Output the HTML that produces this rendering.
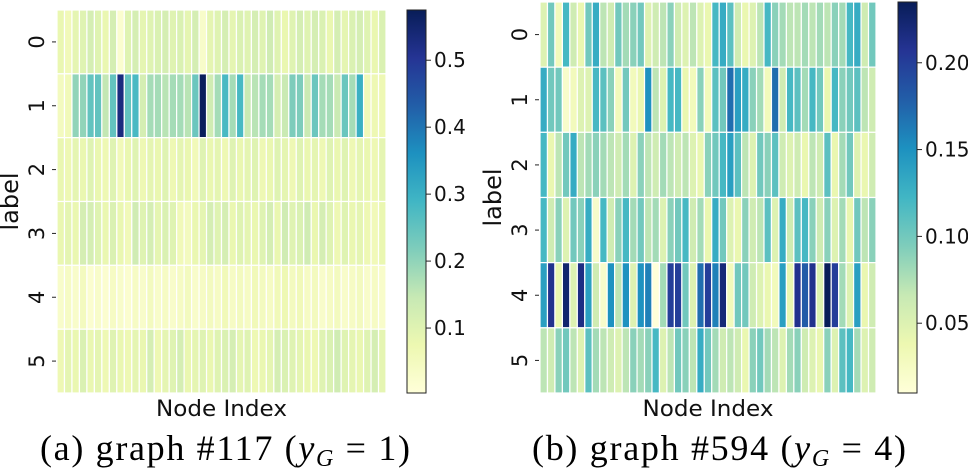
<!DOCTYPE html>
<html><head><meta charset="utf-8"><style>
html,body{margin:0;padding:0;background:#fff;}
svg{display:block;}
.t{font-family:"DejaVu Sans","Liberation Sans",sans-serif;fill:#111;}
.cap{font-family:"Liberation Serif",serif;fill:#000;}
</style></head><body>
<svg id="fig" width="968" height="471" viewBox="0 0 968 471" xmlns="http://www.w3.org/2000/svg">
<defs>
<linearGradient id="cmap" x1="0" y1="1" x2="0" y2="0">
<stop offset="0" stop-color="#ffffd9"/><stop offset="0.125" stop-color="#edf8b1"/><stop offset="0.25" stop-color="#c7e9b4"/><stop offset="0.375" stop-color="#7fcdbb"/><stop offset="0.5" stop-color="#41b6c4"/><stop offset="0.625" stop-color="#1d91c0"/><stop offset="0.75" stop-color="#225ea8"/><stop offset="0.875" stop-color="#253494"/><stop offset="1" stop-color="#081d58"/>
</linearGradient>
</defs>
</svg>
<script>
// Panel (a) graph #117 — rows are labels 0..5, 44 node columns
const rowLabels = ["0","1","2","3","4","5"];
const aRow0 = [0.08,0.06,0.09,0.1,0.12,0.1,0.08,0.12,0.02,0.1,0.12,0.09,0.1,0.11,0.12,0.1,0.11,0.09,0.12,0.03,0.09,0.1,0.12,0.09,0.11,0.1,0.12,0.1,0.13,0.1,0.08,0.1,0.12,0.1,0.12,0.11,0.08,0.12,0.09,0.11,0.12,0.1,0.08,0.11];
const aRow1 = [0.05,0.06,0.2,0.2,0.25,0.25,0.15,0.25,0.53,0.25,0.28,0.12,0.18,0.18,0.16,0.18,0.18,0.16,0.24,0.57,0.13,0.18,0.28,0.18,0.28,0.14,0.16,0.18,0.18,0.12,0.14,0.22,0.22,0.14,0.24,0.18,0.18,0.14,0.24,0.18,0.3,0.06,0.07,0.07];
const aRow2 = [0.08,0.07,0.09,0.08,0.1,0.08,0.07,0.1,0.06,0.08,0.1,0.07,0.09,0.08,0.1,0.07,0.09,0.08,0.06,0.1,0.08,0.09,0.07,0.1,0.08,0.09,0.1,0.07,0.08,0.1,0.09,0.07,0.1,0.08,0.09,0.07,0.1,0.08,0.1,0.07,0.09,0.08,0.07,0.09];
const aRow3 = [0.08,0.09,0.08,0.12,0.12,0.1,0.08,0.11,0.08,0.06,0.13,0.1,0.12,0.09,0.11,0.1,0.06,0.05,0.08,0.09,0.12,0.1,0.12,0.08,0.1,0.09,0.08,0.1,0.12,0.08,0.13,0.1,0.11,0.13,0.08,0.12,0.1,0.07,0.1,0.08,0.09,0.07,0.06,0.08];
const aRow4 = [0.03,0.04,0.03,0.05,0.02,0.03,0.02,0.04,0.03,0.02,0.04,0.03,0.05,0.03,0.04,0.03,0.04,0.05,0.03,0.04,0.05,0.04,0.06,0.04,0.05,0.04,0.06,0.05,0.04,0.06,0.07,0.05,0.06,0.04,0.05,0.03,0.04,0.05,0.03,0.04,0.05,0.03,0.04,0.03];
const aRow5 = [0.07,0.09,0.08,0.11,0.08,0.09,0.07,0.1,0.08,0.07,0.09,0.08,0.12,0.07,0.09,0.1,0.12,0.08,0.09,0.1,0.08,0.1,0.11,0.12,0.09,0.1,0.07,0.08,0.09,0.12,0.11,0.1,0.09,0.08,0.07,0.1,0.11,0.13,0.1,0.09,0.08,0.1,0.12,0.09];
// Panel (b) graph #594 — 45 node columns
const bRow0 = [0.05,0.1,0.03,0.12,0.06,0.04,0.1,0.13,0.07,0.06,0.1,0.08,0.09,0.1,0.05,0.06,0.07,0.09,0.06,0.05,0.07,0.05,0.04,0.12,0.13,0.11,0.06,0.04,0.05,0.07,0.12,0.09,0.08,0.07,0.07,0.08,0.07,0.08,0.07,0.09,0.08,0.12,0.13,0.06,0.1];
const bRow1 = [0.13,0.1,0.1,0.02,0.03,0.05,0.05,0.12,0.11,0.09,0.03,0.1,0.03,0.04,0.15,0.07,0.05,0.12,0.12,0.04,0.03,0.09,0.03,0.11,0.1,0.17,0.14,0.13,0.09,0.08,0.03,0.17,0.06,0.12,0.11,0.08,0.12,0.1,0.04,0.12,0.09,0.1,0.11,0.07,0.06];
const bRow2 = [0.12,0.04,0.07,0.1,0.13,0.07,0.08,0.09,0.08,0.07,0.06,0.08,0.05,0.09,0.07,0.06,0.08,0.07,0.06,0.07,0.05,0.04,0.09,0.1,0.12,0.14,0.11,0.07,0.05,0.1,0.09,0.11,0.06,0.05,0.06,0.04,0.07,0.06,0.11,0.04,0.08,0.1,0.05,0.04,0.06];
const bRow3 = [0.12,0.06,0.09,0.05,0.1,0.09,0.13,0.02,0.12,0.06,0.09,0.12,0.08,0.1,0.07,0.08,0.05,0.09,0.1,0.12,0.06,0.08,0.04,0.13,0.1,0.05,0.04,0.09,0.06,0.07,0.11,0.05,0.13,0.06,0.11,0.12,0.09,0.06,0.09,0.05,0.08,0.04,0.1,0.07,0.09];
const bRow4 = [0.14,0.21,0.04,0.225,0.05,0.215,0.14,0.06,0.02,0.15,0.07,0.15,0.05,0.15,0.16,0.01,0.08,0.2,0.2,0.1,0.05,0.17,0.2,0.16,0.22,0.03,0.1,0.1,0.06,0.05,0.04,0.03,0.14,0.04,0.21,0.18,0.21,0.05,0.235,0.2,0.08,0.05,0.14,0.04,0.06];
const bRow5 = [0.07,0.06,0.09,0.1,0.07,0.05,0.11,0.08,0.07,0.06,0.05,0.07,0.09,0.08,0.09,0.12,0.05,0.07,0.1,0.09,0.07,0.13,0.1,0.08,0.06,0.07,0.06,0.04,0.09,0.1,0.08,0.07,0.05,0.08,0.09,0.06,0.05,0.04,0.09,0.05,0.11,0.12,0.08,0.05,0.06];
const aTicks = [0.1,0.2,0.3,0.4,0.5];
const bTicks = [0.05,0.10,0.15,0.20];

const stops = ["#ffffd9","#edf8b1","#c7e9b4","#7fcdbb","#41b6c4","#1d91c0","#225ea8","#253494","#081d58"];
function hex(c){return [parseInt(c.slice(1,3),16),parseInt(c.slice(3,5),16),parseInt(c.slice(5,7),16)];}
function cmap(t){t=Math.max(0,Math.min(1,t));const p=t*(stops.length-1);const i=Math.min(stops.length-2,Math.floor(p));const f=p-i;const a=hex(stops[i]),b=hex(stops[i+1]);return "rgb("+a.map((v,k)=>Math.round(v+(b[k]-v)*f)).join(",")+")";}
const NS="http://www.w3.org/2000/svg";
const svg=document.getElementById("fig");
function mk(tag,attrs,parent){const e=document.createElementNS(NS,tag);for(const k in attrs)e.setAttribute(k,attrs[k]);(parent||svg).appendChild(e);return e;}

function panel(p){
  const g=mk("g",{});
  
  
  const rows=p.rows, ncol=rows[0].length, nrow=rows.length;
  const cw=(p.x1-p.x0)/ncol, rh=(p.y1-p.y0)/nrow;
  const xs=i=>p.x0+i*cw, ys=j=>p.y0+j*rh;
  const col=v=>cmap((v-p.vmin)/(p.vmax-p.vmin));
  rows.forEach((row,j)=>{
    row.forEach((v,i)=>{
      const r=mk("rect",{x:xs(i),y:ys(j),width:cw,height:rh,fill:col(v),stroke:"#fff","stroke-width":1.2},g);
      
      
    });
    const ty=ys(j)+rh/2;
    mk("line",{x1:p.x0-5,x2:p.x0-1,y1:ty,y2:ty,stroke:"#222","stroke-width":1},g);
    const t=mk("text",{class:"t",x:0,y:0,"font-size":21,"text-anchor":"middle",transform:"translate("+(p.x0-13)+","+ty+") rotate(-90)"},g);
    t.textContent=rowLabels[j];
    
    
  });
  const yl=mk("text",{class:"t","font-size":24,"text-anchor":"middle",transform:"translate("+(p.x0-39)+","+((p.y0+p.y1)/2)+") rotate(-90)"},g);
  yl.textContent="label";
  
  
  const xl=mk("text",{class:"t","font-size":22,"text-anchor":"middle",x:(p.x0+p.x1)/2,y:416,textLength:131,lengthAdjust:"spacingAndGlyphs"},g);
  xl.textContent="Node Index";
  
  
  const cb=mk("rect",{x:p.cx,y:p.y0c,width:19,height:393-p.y0c,fill:"url(#cmap)",stroke:"#222","stroke-width":1},g);
  
  
  const cy=v=>393-(v-p.vmin)/(p.vmax-p.vmin)*(393-p.y0c);
  p.ticks.forEach(v=>{
    const y=cy(v);
    mk("line",{x1:p.cx+19,x2:p.cx+24,y1:y,y2:y,stroke:"#222","stroke-width":1},g);
    const t=mk("text",{class:"t","font-size":20,x:p.cx+27,y:y+7},g);
    t.textContent=v.toFixed(p.dec);
    
    
  });
  const c=mk("text",{class:"cap","font-size":36,x:p.capx,y:460,textLength:p.capw,lengthAdjust:"spacing"},g);
  c.innerHTML=p.cap;
  
  
}
panel({name:"heatmap-graph-117",rows:[aRow0,aRow1,aRow2,aRow3,aRow4,aRow5],x0:57,x1:386,y0:10,y1:393,vmin:0.003,vmax:0.575,cx:407,y0c:10,ticks:aTicks,dec:1,capx:40,capw:370,
  cap:'(a)  graph #117 (<tspan font-style="italic">y</tspan><tspan font-style="italic" font-size="24" dy="6">G</tspan><tspan dy="-6"> = 1)</tspan>'});
panel({name:"heatmap-graph-594",rows:[bRow0,bRow1,bRow2,bRow3,bRow4,bRow5],x0:540,x1:876,y0:2,y1:393,vmin:0.0098,vmax:0.235,cx:898,y0c:2,ticks:bTicks,dec:2,capx:532,capw:374,
  cap:'(b)  graph #594 (<tspan font-style="italic">y</tspan><tspan font-style="italic" font-size="24" dy="6">G</tspan><tspan dy="-6"> = 4)</tspan>'});
</script>
</body></html>
